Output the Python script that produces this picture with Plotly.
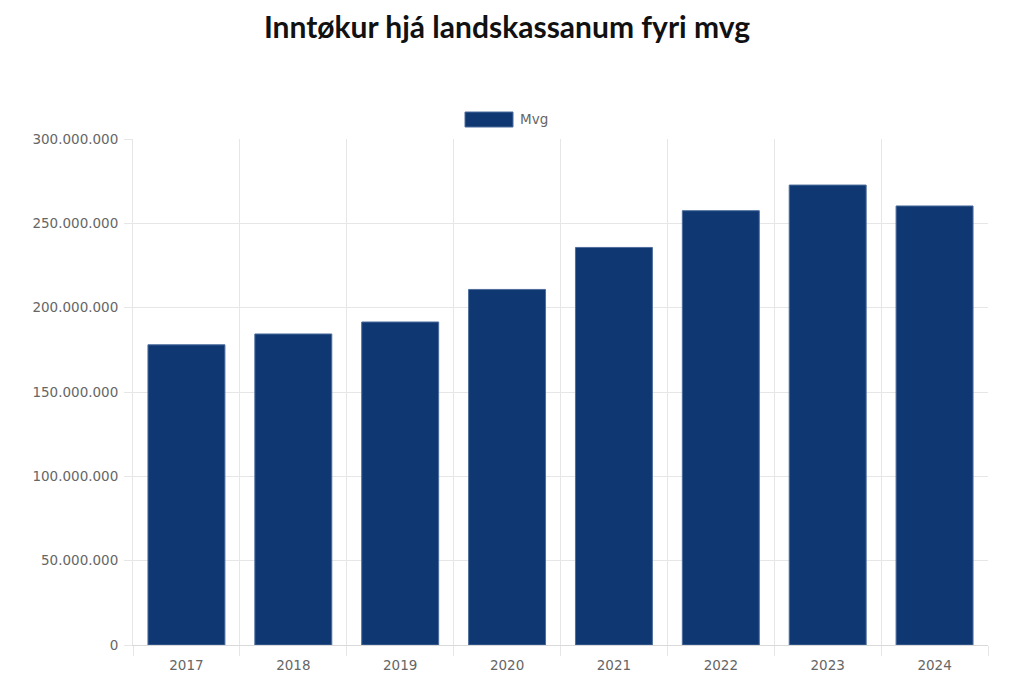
import plotly.graph_objects as go

years = ["2017", "2018", "2019", "2020", "2021", "2022", "2023", "2024"]
mvg = [178000000, 184400000, 191500000, 210800000, 235700000, 257500000, 272700000, 260300000]
series_name = "Mvg"
title_text = "Inntøkur hjá landskassanum fyri mvg"

bar_color = "#0f3873"
edge_color = "#4d6d9c"
grid_color = "#e6e6e6"
tick_font = dict(family="DejaVu Sans, Verdana, sans-serif", size=13.5, color="#666666")

# page body adds an 8px offset; plot area target: x 133..988, y 139..645 on screen
L, R, T, B = 125, 44, 131, 61
PW, PH = 1024 - L - R, 698 - T - B

fig = go.Figure()
fig.add_trace(go.Bar(
    x=years, y=mvg, name=series_name,
    marker=dict(color=bar_color, line=dict(color=edge_color, width=1)),
    showlegend=False,
))

fig.update_layout(
    width=1024, height=698,
    margin=dict(l=L, r=R, t=T, b=B),
    paper_bgcolor="white", plot_bgcolor="white",
    bargap=0.28,
    separators=",.",
    title=dict(text="<b>" + title_text + "</b>", x=(507 - 8) / 1024, xanchor="center",
               y=1 - 19 / 698, yanchor="middle",
               font=dict(family="Lato, Open Sans, sans-serif", size=30, color="#111111")),
    xaxis=dict(
        type="category", tickson="boundaries", showgrid=True, gridcolor=grid_color, gridwidth=1,
        ticks="outside", ticklen=10, tickcolor=grid_color,
        showline=True, linecolor="#d9d9d9", linewidth=1,
        tickfont=tick_font, ticklabelstandoff=8,
    ),
    yaxis=dict(
        range=[0, 300000000], dtick=50000000, tickformat=",d",
        showgrid=True, gridcolor=grid_color, gridwidth=1,
        ticks="outside", ticklen=8, tickcolor=grid_color,
        showline=True, linecolor=grid_color, linewidth=1,
        zeroline=False, tickfont=tick_font, ticklabelstandoff=3,
    ),
)

# legend drawn as a wide swatch plus label (screen coords converted to paper)
def px(xs):
    return (xs - 8 - L) / PW

def py(ys):
    return 1 - (ys - 8 - T) / PH

fig.add_shape(type="rect", xref="paper", yref="paper",
              x0=px(465), x1=px(513), y0=py(127), y1=py(112),
              fillcolor=bar_color, line=dict(color=edge_color, width=1))
fig.add_annotation(xref="paper", yref="paper", x=px(518), y=py(119.5),
                   text=series_name, showarrow=False, xanchor="left", yanchor="middle",
                   font=dict(family="DejaVu Sans, Verdana, sans-serif", size=13.5, color="#666666"))

fig.write_html("out.html")
